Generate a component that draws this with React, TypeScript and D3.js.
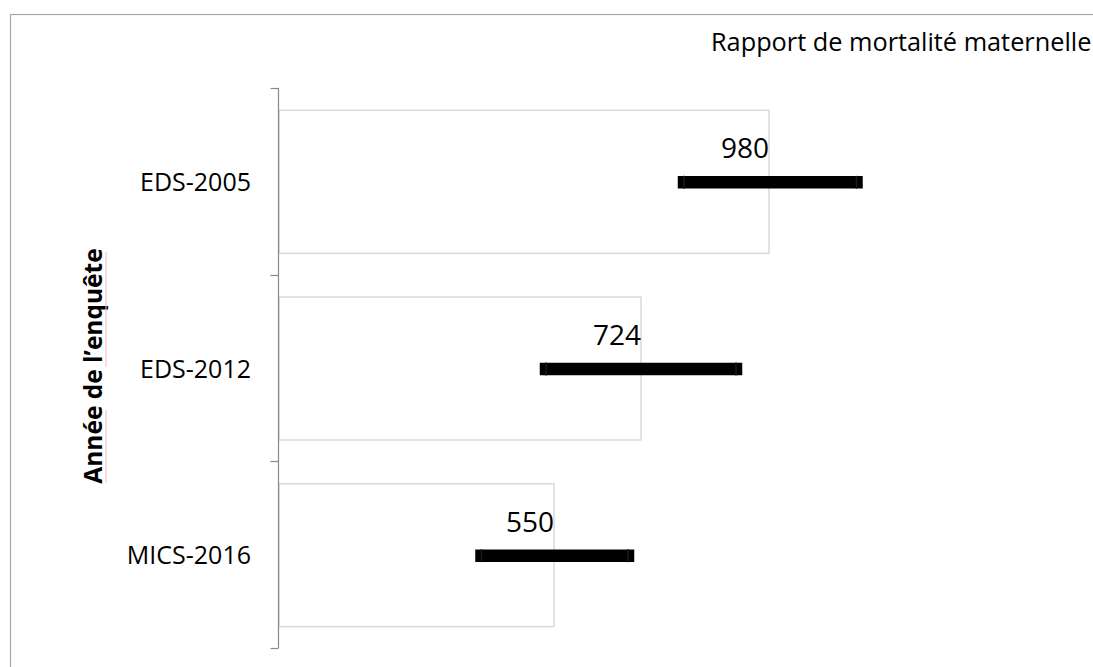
import React, { useEffect, useRef } from 'react';
import * as d3 from 'd3';

// enquêtes et rapport de mortalité maternelle (pour 100 000 naissances)
const surveys = ['EDS-2005', 'EDS-2012', 'MICS-2016'];
const ratios = [980, 724, 550];
const lowerBounds = [810, 534, 405];
const upperBounds = [1155, 914, 698];

const xTitle = 'Rapport de mortalité maternelle';
const yTitle = 'Année de l’enquête';

const FONT = '"Open Sans", "Noto Sans", sans-serif';

export default function App() {
  const svgRef = useRef<SVGSVGElement | null>(null);

  useEffect(() => {
    const svg = d3.select(svgRef.current);
    svg.selectAll('*').remove();

    const width = 1093;
    const height = 667;
    const axisX = 278.5;

    svg.attr('width', width).attr('height', height);

    // cadre du graphique (coupé à droite et en bas)
    svg.append('rect')
      .attr('x', 10.5)
      .attr('y', 14.5)
      .attr('width', 1200)
      .attr('height', 800)
      .attr('fill', '#fff')
      .attr('stroke', '#a6a6a6')
      .attr('stroke-width', 1.2);

    const yScale = d3.scaleBand<string>()
      .domain(surveys)
      .range([88, 648])
      .paddingInner(0.234)
      .paddingOuter(0.117);

    const xScale = d3.scaleLinear()
      .domain([0, 1600])
      .range([279, 1079]);

    const rows = surveys.map((s, i) => ({
      name: s,
      value: ratios[i],
      lo: lowerBounds[i],
      hi: upperBounds[i],
    }));

    // barres
    svg.selectAll('rect.bar')
      .data(rows)
      .enter()
      .append('rect')
      .attr('class', 'bar')
      .attr('x', xScale(0))
      .attr('y', d => yScale(d.name)! + 0.5)
      .attr('width', d => xScale(d.value) - xScale(0))
      .attr('height', yScale.bandwidth())
      .attr('fill', '#fff')
      .attr('stroke', '#d9d9d9')
      .attr('stroke-width', 1.5);

    // barres d'erreur
    const mid = (d: { name: string }) => yScale(d.name)! + yScale.bandwidth() / 2 + 1;

    svg.selectAll('line.err')
      .data(rows)
      .enter()
      .append('line')
      .attr('class', 'err')
      .attr('x1', d => xScale(d.lo))
      .attr('x2', d => xScale(d.hi))
      .attr('y1', mid)
      .attr('y2', mid)
      .attr('stroke', '#000')
      .attr('stroke-width', 12.5)
      .attr('stroke-linecap', 'square');

    rows.forEach(d => {
      [d.lo, d.hi].forEach(v => {
        svg.append('line')
          .attr('x1', xScale(v))
          .attr('x2', xScale(v))
          .attr('y1', mid(d) - 6.5)
          .attr('y2', mid(d) + 6.5)
          .attr('stroke', '#1a1a1a')
          .attr('stroke-width', 1.5);
      });
    });

    // étiquettes de valeurs
    svg.selectAll('text.val')
      .data(rows)
      .enter()
      .append('text')
      .attr('class', 'val')
      .attr('x', d => xScale(d.value))
      .attr('y', d => mid(d) - 24)
      .attr('text-anchor', 'end')
      .attr('font-family', FONT)
      .attr('font-size', 28)
      .attr('fill', '#000')
      .text(d => d.value);

    // axe vertical
    const step = yScale.step();
    svg.append('line')
      .attr('x1', axisX)
      .attr('x2', axisX)
      .attr('y1', 88)
      .attr('y2', 648)
      .attr('stroke', '#898989')
      .attr('stroke-width', 1.2);

    d3.range(surveys.length + 1).forEach(i => {
      const y = Math.round(88 + i * step) + 0.5;
      svg.append('line')
        .attr('x1', axisX - 8)
        .attr('x2', axisX)
        .attr('y1', y)
        .attr('y2', y)
        .attr('stroke', '#898989')
        .attr('stroke-width', 1.2);
    });

    svg.selectAll('text.cat')
      .data(surveys)
      .enter()
      .append('text')
      .attr('class', 'cat')
      .attr('x', 251)
      .attr('y', d => yScale(d)! + yScale.bandwidth() / 2 + 1)
      .attr('dy', '0.35em')
      .attr('text-anchor', 'end')
      .attr('font-family', FONT)
      .attr('font-size', 25)
      .attr('fill', '#000')
      .text(d => d);

    // titre de l'axe des valeurs
    svg.append('text')
      .attr('x', 711)
      .attr('y', 51)
      .attr('font-family', FONT)
      .attr('font-size', 25.3)
      .attr('fill', '#000')
      .text(xTitle);

    // titre de l'axe des catégories
    const yt = svg.append('g')
      .attr('transform', 'translate(102,366) rotate(-90)');

    yt.append('text')
      .attr('x', 0)
      .attr('y', 0)
      .attr('text-anchor', 'middle')
      .attr('font-family', FONT)
      .attr('font-size', 24.5)
      .attr('font-weight', 'bold')
      .attr('fill', '#000')
      .text(yTitle);

    // soulignement du correcteur orthographique
    [[-117, -44], [-1, 114]].forEach(([a, b]) => {
      yt.append('line')
        .attr('x1', a)
        .attr('x2', b)
        .attr('y1', 4)
        .attr('y2', 4)
        .attr('stroke', '#f3b9b9')
        .attr('stroke-width', 1);
    });
  }, []);

  return (
    <div style={{ position: 'absolute', left: 0, top: 0 }}>
      <svg ref={svgRef} style={{ display: 'block' }}></svg>
    </div>
  );
}
